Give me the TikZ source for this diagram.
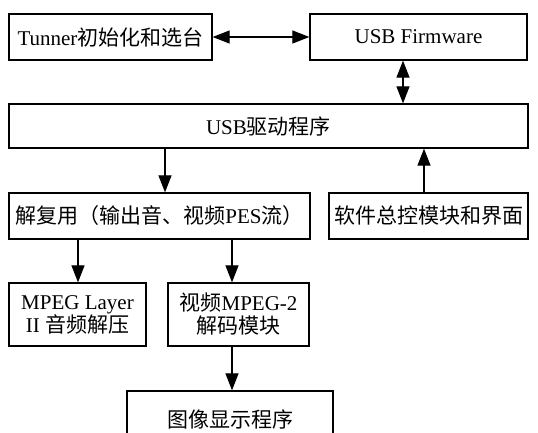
\documentclass[tikz,border=0pt]{standalone}
\usepackage{fontspec}
\setmainfont{Liberation Serif}
\newfontfamily\cjk{Noto Sans CJK SC}
\usetikzlibrary{arrows.meta}
\tikzset{
  box/.style={draw, line width=1.3pt, inner sep=0pt, align=center, font=\fontsize{21}{23}\selectfont},
  arr/.style={line width=1.2pt, -{Triangle[length=17pt,width=13pt]}},
  darr/.style={line width=1.2pt, {Triangle[length=17pt,width=13pt]}-{Triangle[length=17pt,width=13pt]}}
}
\begin{document}
\begin{tikzpicture}[x=1pt,y=-1pt]
\useasboundingbox (0,0) rectangle (538,432);
\clip (0,0) rectangle (538,432);
\fill[white] (0,0) rectangle (538,432);
\node[box, minimum width=203pt, minimum height=46pt] (T) at (110.5,37) {Tunner{\cjk 初始化和选台}};
\node[box, minimum width=217pt, minimum height=46pt] (F) at (418.5,37) {USB Firmware};
\node[box, minimum width=519pt, minimum height=44pt] (D) at (268.5,126) {USB{\cjk 驱动程序}};
\node[box, minimum width=301pt, minimum height=46pt] (X) at (159.5,216) {{\cjk 解复用（输出音、视频}PES{\cjk 流）}};
\node[box, minimum width=199pt, minimum height=46pt] (S) at (428.5,216) {{\cjk 软件总控模块和界面}};
\node[box, minimum width=137pt, minimum height=63pt] (A) at (77.5,314.5) {MPEG Layer\\II {\cjk 音频解压}};
\node[box, minimum width=141pt, minimum height=63pt] (V) at (238.5,314.5) {{\cjk 视频}MPEG-2\\{\cjk 解码模块}};
\node[box, minimum width=206pt, minimum height=56pt] (I) at (230,419) {{\cjk 图像显示程序}};
\coordinate (c1) at (165,0);
\coordinate (c2) at (424,0);
\coordinate (c3) at (403,0);
\coordinate (c4) at (78,0);
\coordinate (c5) at (232,0);
\draw[darr] (T.east) -- (F.west);
\draw[darr] (F.south -| c3) -- (D.north -| c3);
\draw[arr] (D.south -| c1) -- (X.north -| c1);
\draw[arr] (S.north -| c2) -- (D.south -| c2);
\draw[arr] (X.south -| c4) -- (A.north -| c4);
\draw[arr] (X.south -| c5) -- (V.north -| c5);
\draw[arr] (V.south -| c5) -- (I.north -| c5);
\end{tikzpicture}
\end{document}
